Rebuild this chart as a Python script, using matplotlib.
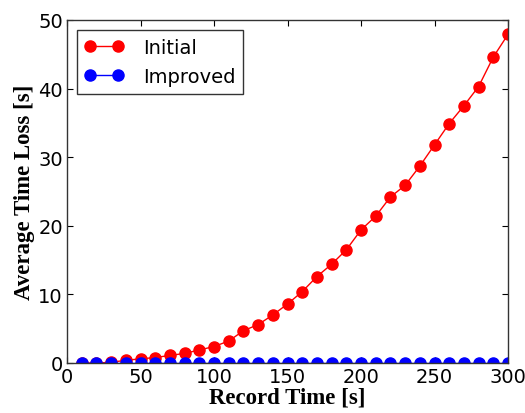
import matplotlib
matplotlib.use("Agg")
import matplotlib.pyplot as plt

record_time = [10, 20, 30, 40, 50, 60, 70, 80, 90, 100, 110, 120, 130, 140, 150,
               160, 170, 180, 190, 200, 210, 220, 230, 240, 250, 260, 270, 280, 290, 300]
initial = [0.0, 0.0, 0.1, 0.4, 0.6, 0.8, 1.1, 1.4, 1.9, 2.4, 3.2, 4.7, 5.6, 7.0, 8.6,
           10.4, 12.6, 14.4, 16.5, 19.4, 21.4, 24.2, 25.9, 28.7, 31.8, 34.9, 37.5, 40.3, 44.6, 47.9]
improved = [0.0] * len(record_time)

fig = plt.figure(figsize=(5.25, 4.14), dpi=100)
ax = fig.add_axes([67/525, 1 - 364/414, (508-67)/525, (364-21)/414])

ax.plot(record_time, initial, '-o', color='red', lw=1, ms=8, mec='red', label='Initial')
ax.plot(record_time, improved, '-o', color='blue', lw=1, ms=8, mec='blue', label='Improved')

ax.set_xlim(0, 300)
ax.set_ylim(0, 50)
ax.set_xticks([0, 50, 100, 150, 200, 250, 300])
ax.set_yticks([0, 10, 20, 30, 40, 50])
ax.tick_params(direction='in', top=True, right=True, labelsize=14, length=4, pad=3)
for s in ax.spines.values():
    s.set_linewidth(1.0)
    s.set_color('#333333')

lab_font = dict(family='Liberation Serif', weight='bold', size=16.5)
ax.set_xlabel('Record Time [s]', fontdict=lab_font, labelpad=0)
ax.set_ylabel('Average Time Loss [s]', fontdict=lab_font, labelpad=2)

leg = ax.legend(loc='upper left', numpoints=2, fontsize=14, fancybox=False,
                framealpha=1, edgecolor='#333333', borderaxespad=0.5,
                handlelength=2.0, handletextpad=1.0, labelspacing=0.55)
leg.get_frame().set_linewidth(1.0)

fig.savefig('out.png', dpi=100, facecolor='white')
